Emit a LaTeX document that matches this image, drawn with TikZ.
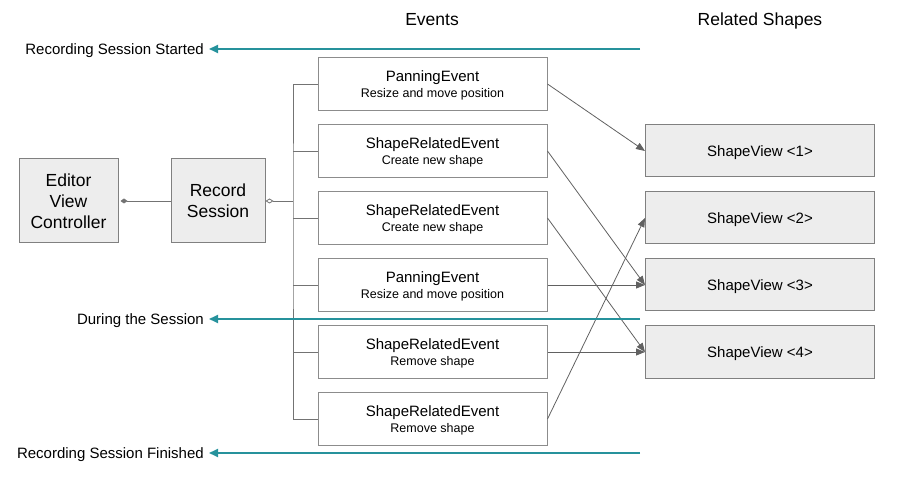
\documentclass[tikz,border=0pt]{standalone}
\usepackage{amsmath, tikz}
\usepackage{fontspec}
\setmainfont{Liberation Sans}
\usetikzlibrary{arrows.meta}
\definecolor{sessionteal}{RGB}{38,146,156}

\tikzset{
  every node/.style = {text depth = 0pt},
  ctrlbox/.style = {draw = black!50, fill = black!7, line width = 1pt, minimum width = 99pt, minimum height = 84pt, align = center, font = \fontsize{17.5}{21}\selectfont},
  eventbox/.style = {draw = black!45, fill = white, line width = 1pt, minimum width = 229pt, minimum height = 53pt, align = center, font = \fontsize{12.5}{16}\selectfont},
  viewbox/.style = {draw = black!50, fill = black!7, line width = 1pt, minimum width = 229pt, minimum height = 52pt, font = \fontsize{15}{18}\selectfont},
  link/.style = {draw = black!62, line width = 0.8pt, -{Triangle[length = 9pt, width = 7pt]}},
  tree/.style = {draw = black!55, line width = 0.8pt},
  timeline/.style = {draw = sessionteal, line width = 2pt, -{Triangle[length = 9pt, width = 8pt]}},
  phase/.style = {anchor = east, inner sep = 5pt, font = \fontsize{15}{18}\selectfont}
}

\begin{document}
\begin{tikzpicture}[x = 1pt, y = -1pt]
\useasboundingbox (0,0) rectangle (897,478);

\node[font = \fontsize{17.5}{21}\selectfont] (hevents) at (432,19) {Events};
\node[font = \fontsize{17.5}{21}\selectfont] (hshapes) at (760,19) {Related Shapes};

\node[ctrlbox] (evc) at (68.5,201) {Editor\\View\\Controller};
\node[ctrlbox, minimum width = 94pt] (rs) at (218,201) {Record\\Session};

\node[eventbox] (ev1) at (432.5,84) {{\fontsize{15}{17}\selectfont PanningEvent}\\Resize and move position};
\node[eventbox] (ev2) at (432.5,151) {{\fontsize{15}{17}\selectfont ShapeRelatedEvent}\\Create new shape};
\node[eventbox] (ev3) at (432.5,218) {{\fontsize{15}{17}\selectfont ShapeRelatedEvent}\\Create new shape};
\node[eventbox] (ev4) at (432.5,285) {{\fontsize{15}{17}\selectfont PanningEvent}\\Resize and move position};
\node[eventbox] (ev5) at (432.5,352) {{\fontsize{15}{17}\selectfont ShapeRelatedEvent}\\Remove shape};
\node[eventbox] (ev6) at (432.5,419) {{\fontsize{15}{17}\selectfont ShapeRelatedEvent}\\Remove shape};

\node[viewbox] (sv1) at (760,151) {ShapeView <1>};
\node[viewbox] (sv2) at (760,218) {ShapeView <2>};
\node[viewbox] (sv3) at (760,285) {ShapeView <3>};
\node[viewbox] (sv4) at (760,352) {ShapeView <4>};

\coordinate (bus) at (293,201);
\draw[tree, {Diamond[length = 7pt, width = 5pt]}-, shorten <= 2pt] (evc.east) -- (rs.west);
\draw[tree, {Diamond[open, length = 8pt, width = 5pt]}-] (rs.east) -- (bus);
\draw[tree] (ev1.west) -| (bus) |- (ev6.west);
\foreach \e in {ev2, ev3, ev4, ev5}
  \draw[tree] (\e.west) -- (\e.west -| bus);

\draw[link] (ev1.east) -- (sv1.west);
\draw[link] (ev2.east) -- (sv3.west);
\draw[link] (ev3.east) -- (sv4.west);
\draw[link] (ev4.east) -- (sv3.west);
\draw[link] (ev5.east) -- (sv4.west);
\draw[link] (ev6.east) -- (sv2.west);

\node[phase] (started) at (209,49) {Recording Session Started};
\node[phase] (during) at (209,319) {During the Session};
\node[phase] (finished) at (209,453) {Recording Session Finished};
\coordinate (tstarted) at (640,49);
\coordinate (tduring) at (640,319);
\coordinate (tfinished) at (640,453);
\draw[timeline] (tstarted) -- (started);
\draw[timeline] (tduring) -- (during);
\draw[timeline] (tfinished) -- (finished);
\end{tikzpicture}
\end{document}
